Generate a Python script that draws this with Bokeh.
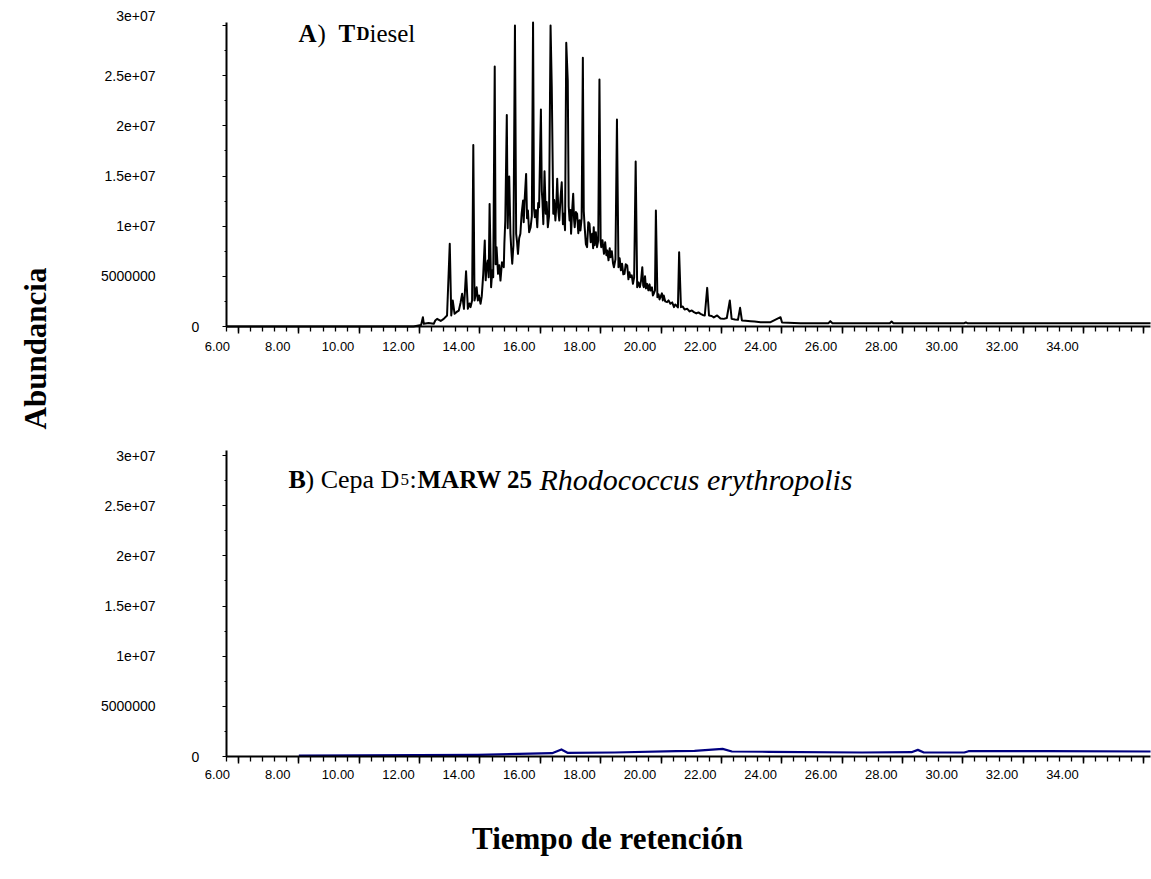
import math
from bokeh.plotting import figure
from bokeh.models import Range1d, LinearAxis, FixedTicker, Label, LabelSet, ColumnDataSource
from bokeh.core.properties import value
from bokeh.embed import file_html
from bokeh.resources import INLINE

# ---------------- data (retention time in min, abundance in millions of counts) ----------------
diesel_time = [
    5.62, 11.80, 12.05, 12.11, 12.14, 12.30, 12.47, 12.52, 12.58, 12.70, 12.80, 12.91, 13.00, 13.05,
    13.10, 13.16, 13.23, 13.30, 13.36, 13.41, 13.47, 13.54, 13.60, 13.65, 13.69, 13.74, 13.78, 13.82,
    13.86, 13.89, 13.93, 13.97, 14.02, 14.06, 14.11, 14.16, 14.19, 14.22, 14.26, 14.29, 14.32, 14.37,
    14.41, 14.44, 14.49, 14.52, 14.55, 14.60, 14.64, 14.68, 14.73, 14.79, 14.81, 14.84, 14.89, 14.92,
    14.94, 14.97, 15.01, 15.04, 15.07, 15.11, 15.16, 15.20, 15.23, 15.26, 15.30, 15.34, 15.38, 15.43,
    15.45, 15.48, 15.53, 15.56, 15.59, 15.63, 15.68, 15.72, 15.76, 15.79, 15.82, 15.86, 15.90, 15.93,
    15.96, 16.02, 16.05, 16.07, 16.10, 16.14, 16.18, 16.21, 16.25, 16.29, 16.34, 16.38, 16.43, 16.46,
    16.50, 16.53, 16.56, 16.60, 16.63, 16.67, 16.71, 16.75, 16.78, 16.82, 16.86, 16.91, 16.94, 16.97,
    17.00, 17.02, 17.06, 17.09, 17.12, 17.14, 17.18, 17.22, 17.26, 17.30, 17.33, 17.37, 17.41, 17.44,
    17.47, 17.51, 17.55, 17.59, 17.63, 17.67, 17.72, 17.75, 17.77, 17.80, 17.84, 17.88, 17.92, 17.96,
    18.00, 18.02, 18.06, 18.11, 18.15, 18.19, 18.22, 18.26, 18.30, 18.33, 18.37, 18.41, 18.44, 18.49,
    18.54, 18.59, 18.63, 18.67, 18.71, 18.75, 18.79, 18.83, 18.88, 18.92, 18.95, 18.99, 19.03, 19.07,
    19.11, 19.16, 19.21, 19.25, 19.30, 19.34, 19.38, 19.41, 19.43, 19.47, 19.50, 19.54, 19.58, 19.62,
    19.65, 19.70, 19.73, 19.76, 19.80, 19.83, 19.88, 19.92, 19.95, 19.98, 20.03, 20.06, 20.09, 20.14,
    20.20, 20.25, 20.31, 20.37, 20.43, 20.47, 20.51, 20.56, 20.60, 20.66, 20.72, 20.78, 20.87, 20.95,
    21.02, 21.09, 21.17, 21.24, 21.31, 21.38, 21.45, 21.53, 21.59, 21.68, 21.75, 21.86, 21.97, 22.08,
    22.18, 22.28, 22.34, 22.45, 22.55, 22.62, 22.68, 22.80, 22.97, 23.10, 23.30, 23.63, 23.96, 24.01,
    24.62, 25.55, 25.61, 25.68, 27.58, 27.64, 27.70, 28.83, 30.05, 30.10, 30.15, 33.00, 36.22]
diesel_abund_M = [
    0.00, 0.00, 0.15, 0.93, 0.27, 0.35, 0.27, 0.60, 0.76, 0.55, 0.76, 1.10, 8.24, 1.10,
    2.59, 1.26, 1.45, 1.59, 2.40, 3.26, 1.76, 5.51, 1.76, 2.30, 1.93, 2.60, 18.10, 2.59,
    3.20, 3.92, 2.59, 3.10, 2.26, 3.00, 5.25, 8.57, 4.60, 5.91, 6.58, 4.90, 12.22, 3.92,
    5.60, 4.92, 25.91, 6.20, 7.91, 5.25, 6.10, 4.58, 6.40, 5.91, 8.30, 10.56, 21.09, 9.80,
    12.56, 14.95, 9.24, 7.60, 6.25, 8.10, 30.00, 9.24, 8.40, 7.24, 8.80, 9.24, 11.20, 12.56,
    10.40, 12.56, 15.21, 10.80, 11.56, 9.40, 9.90, 11.00, 30.30, 11.80, 10.90, 11.60, 9.90, 12.30,
    11.89, 21.63, 13.50, 12.56, 10.20, 15.48, 11.23, 12.40, 9.90, 11.00, 30.00, 23.85, 11.23, 12.60,
    10.56, 12.00, 14.72, 11.40, 10.56, 12.80, 14.38, 10.20, 11.23, 9.60, 28.27, 24.52, 12.00, 10.56,
    11.60, 9.24, 11.80, 13.22, 10.60, 9.90, 11.40, 11.23, 9.30, 10.60, 9.57, 10.80, 26.78, 11.50,
    9.90, 8.20, 7.91, 10.40, 10.23, 8.40, 9.24, 7.80, 9.90, 8.10, 9.40, 7.91, 8.60, 24.62,
    8.40, 7.91, 8.60, 7.24, 8.40, 7.10, 7.57, 6.60, 7.80, 6.91, 7.50, 6.30, 5.91, 6.70,
    20.63, 5.91, 6.80, 5.60, 6.25, 5.20, 5.25, 6.20, 6.08, 4.70, 5.40, 4.92, 5.10, 4.25,
    4.90, 16.44, 3.92, 4.40, 3.92, 4.60, 5.91, 4.10, 3.92, 5.00, 3.80, 4.25, 3.60, 4.20,
    3.59, 3.90, 3.10, 3.26, 3.60, 11.56, 2.92, 3.20, 2.70, 2.92, 3.30, 2.60, 3.09, 2.50,
    2.43, 2.60, 2.26, 2.40, 1.93, 2.20, 2.09, 1.90, 7.41, 1.93, 2.00, 1.70, 1.76, 1.50,
    1.60, 1.43, 1.30, 1.40, 1.26, 1.15, 1.10, 3.85, 1.10, 1.05, 0.90, 1.10, 0.80, 0.76,
    0.85, 2.59, 0.76, 0.70, 0.66, 1.86, 0.60, 0.58, 0.53, 0.50, 0.43, 0.43, 0.93, 0.40,
    0.33, 0.33, 0.53, 0.33, 0.33, 0.50, 0.33, 0.33, 0.33, 0.40, 0.33, 0.33, 0.33]
diesel_abund = [v * 1e6 for v in diesel_abund_M]

strain_time = [8.00, 13.93, 16.39, 16.70, 16.90, 18.45, 20.50, 21.11, 22.04, 22.35, 23.58, 26.66,
               28.30, 28.51, 28.71, 30.05, 30.19, 32.82, 36.22]
strain_abund_M = [0.10, 0.17, 0.33, 0.70, 0.37, 0.40, 0.53, 0.57, 0.76, 0.50, 0.47, 0.40,
                  0.43, 0.66, 0.40, 0.40, 0.53, 0.53, 0.50]
strain_abund = [v * 1e6 for v in strain_abund_M]

x_major_ticks = [6, 8, 10, 12, 14, 16, 18, 20, 22, 24, 26, 28, 30, 32, 34, 36]
x_label_values = [6, 8, 10, 12, 14, 16, 18, 20, 22, 24, 26, 28, 30, 32, 34]
x_label_texts = ["6.00", "8.00", "10.00", "12.00", "14.00", "16.00", "18.00", "20.00",
                 "22.00", "24.00", "26.00", "28.00", "30.00", "32.00", "34.00"]
y_major_ticks = [0, 5000000, 10000000, 15000000, 20000000, 25000000, 30000000]
y_tick_texts = ["0", "5000000", "1e+07", "1.5e+07", "2e+07", "2.5e+07", "3e+07"]

# ---------------- layout constants (page pixels) ----------------
W, H = 1151, 879
LEFT = 226                # x of both y-axes
PX_PER_MIN = 30.18
X0, X1 = 5.6024, 36.22    # visible time span of the panels
CNT_PER_PX = 3e7 / 301    # abundance per vertical pixel
ZERO_TOP, ZERO_BOT = 326, 756   # page y of the two x-axes
TOP_END, BOT_END = 3.03e7, 3.0498e7
LABEL_SHIFT = 0.70        # tick labels sit a little left of their tick in the original
SANS = "Liberation Sans"
SERIF = "Liberation Serif"

x_minor = [round(5.6 + 0.4 * k, 2) for k in range(0, 78)]
y_minor = [2500000 + 5000000 * k for k in range(0, 6)]

x_range = Range1d(X0 - LEFT / PX_PER_MIN, X0 + (W - LEFT) / PX_PER_MIN)
top_range = Range1d(-(H - ZERO_TOP) * CNT_PER_PX, ZERO_TOP * CNT_PER_PX)
bot_range = Range1d(-(H - ZERO_BOT) * CNT_PER_PX, ZERO_BOT * CNT_PER_PX)

p = figure(width=W, height=H, x_range=x_range, y_range=top_range,
           output_backend="svg", toolbar_location=None,
           x_axis_type=None, y_axis_type=None,
           min_border=0, min_border_left=0, min_border_right=0,
           min_border_top=0, min_border_bottom=0)
p.extra_y_ranges = {"bot": bot_range}
p.outline_line_color = None
p.background_fill_color = "white"
p.border_fill_color = "white"


def add_axes(range_name, y_end, hide_top_label):
    kw = {} if range_name is None else {"y_range_name": range_name}
    xa = LinearAxis(ticker=FixedTicker(ticks=x_major_ticks, minor_ticks=x_minor),
                    fixed_location=0, bounds=(X0, X1), **kw)
    xa.major_label_overrides = {v: "" for v in x_major_ticks}
    xa.axis_line_width = 2
    xa.axis_line_color = "black"
    xa.major_tick_out = 7
    xa.major_tick_in = 0
    xa.minor_tick_out = 5
    xa.minor_tick_in = 0
    xa.major_tick_line_width = 1.5
    xa.minor_tick_line_width = 1.3
    xa.major_label_text_font_size = "1px"
    p.add_layout(xa, "below")

    ya = LinearAxis(ticker=FixedTicker(ticks=y_major_ticks, minor_ticks=y_minor),
                    fixed_location=X0, bounds=(0, y_end), **kw)
    overrides = {v: s for v, s in zip(y_major_ticks, y_tick_texts)}
    overrides[0] = ""
    if hide_top_label:
        overrides[30000000] = ""
    ya.major_label_overrides = overrides
    ya.axis_line_width = 2
    ya.axis_line_color = "black"
    ya.major_tick_out = 4
    ya.major_tick_in = 0
    ya.minor_tick_out = 2
    ya.minor_tick_in = 0
    ya.major_tick_line_width = 1.2
    ya.minor_tick_line_width = 1
    ya.major_label_standoff = 67
    ya.major_label_text_font = SANS
    ya.major_label_text_font_size = "14px"
    ya.major_label_text_color = "black"
    p.add_layout(ya, "left")


def add_x_labels(page_y):
    src = ColumnDataSource(dict(x=[v - LABEL_SHIFT for v in x_label_values],
                                y=[H - page_y] * len(x_label_values),
                                text=x_label_texts))
    p.add_layout(LabelSet(x="x", y="y", text="text", source=src, x_units="data", y_units="screen",
                          text_align="center", text_baseline="middle",
                          text_font=value(SANS), text_font_size=value("13px"),
                          text_color="black"))


def screen_label(text, page_x, page_y, **kw):
    opts = dict(text_font=SERIF, text_color="black", text_align="left",
                text_baseline="alphabetic")
    opts.update(kw)
    p.add_layout(Label(x=page_x, y=H - page_y, x_units="screen", y_units="screen",
                       text=text, **opts))


# ---- top panel: diesel ----
add_axes(None, TOP_END, True)
p.line(diesel_time, diesel_abund, line_color="black", line_width=2.0, line_join="round")
add_x_labels(346)
p.add_layout(Label(x=195, y=0, x_units="screen", y_units="data", text="0",
                   text_align="center", text_baseline="middle",
                   text_font=SANS, text_font_size="14px", text_color="black"))
screen_label("3e+07", 155, 15, text_font=SANS, text_font_size="14px",
             text_align="right", text_baseline="middle")
for txt, xx, style, size in [("A", 298, "bold", "25px"), (")", 317, "normal", "25px"),
                             ("T", 338, "bold", "25px"), ("D", 356, "bold", "18px"),
                             ("iesel", 369, "normal", "25px")]:
    screen_label(txt, xx, 33, text_font_style=style, text_font_size=size)

# ---- bottom panel: strain D5 ----
add_axes("bot", BOT_END, False)
p.line(strain_time, strain_abund, line_color="#000080", line_width=2.2, line_join="round",
       y_range_name="bot")
add_x_labels(774)
p.add_layout(Label(x=195, y=0, x_units="screen", y_units="data", y_range_name="bot", text="0",
                   text_align="center", text_baseline="middle",
                   text_font=SANS, text_font_size="14px", text_color="black"))
x_cursor = 288
for txt, style, size, width in [("B", "bold", "26px", 17), (") Cepa D", "normal", "26px", 95),
                                ("5", "normal", "17px", 9), (":", "normal", "26px", 8),
                                ("MARW 25", "bold", "25px", 122),
                                ("Rhodococcus erythropolis", "italic", "30px", 0)]:
    screen_label(txt, x_cursor, 479, text_font_style=style, text_font_size=size)
    x_cursor += width

# ---- shared axis titles ----
screen_label("Abundancia", 35, 348, angle=math.pi / 2, text_align="center",
             text_baseline="middle", text_font_style="bold", text_font_size="31px")
screen_label("Tiempo de retención", 607, 838, text_align="center", text_baseline="middle",
             text_font_style="bold", text_font_size="31px")

open("out.html", "w").write(file_html(p, INLINE))
